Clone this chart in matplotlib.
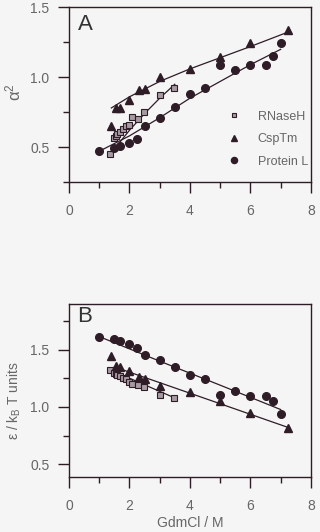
import numpy as np
import matplotlib
matplotlib.use('Agg')
from matplotlib import pyplot as plt
from matplotlib.ticker import MultipleLocator

plt.rcParams['font.family'] = ['Liberation Sans', 'DejaVu Sans']
plt.rcParams['mathtext.fontset'] = 'custom'
plt.rcParams['mathtext.rm'] = 'Liberation Sans'
plt.rcParams['mathtext.it'] = 'Liberation Sans'

#======================================================
# data
rnase_x = [1.36, 1.5, 1.55, 1.6, 1.7, 1.8, 1.9, 2.0, 2.07, 2.29, 2.48, 3.01, 3.48]
rnase_a = [0.452, 0.565, 0.58, 0.59, 0.61, 0.63, 0.65, 0.66, 0.716, 0.70, 0.75, 0.87, 0.925]
rnase_b = [1.32, 1.30, 1.29, 1.28, 1.27, 1.25, 1.24, 1.22, 1.20, 1.19, 1.172, 1.106, 1.078]

csp_x = [1.4, 1.55, 1.7, 2.0, 2.3, 2.5, 3.0, 4.0, 5.0, 6.0, 7.25]
csp_a = [0.649, 0.78, 0.78, 0.84, 0.906, 0.918, 1.0, 1.06, 1.147, 1.243, 1.34]
csp_b = [1.443, 1.356, 1.345, 1.313, 1.259, 1.241, 1.184, 1.132, 1.049, 0.948, 0.819]

protl_x = [1.0, 1.5, 1.7, 2.0, 2.25, 2.5, 3.0, 3.5, 4.0, 4.5, 5.0, 5.5, 6.0, 6.5, 6.75, 7.0]
protl_a = [0.469, 0.49, 0.505, 0.529, 0.56, 0.654, 0.709, 0.788, 0.882, 0.92,
           1.087, 1.05, 1.087, 1.087, 1.149, 1.245]
protl_b = [1.609, 1.592, 1.572, 1.552, 1.517, 1.451, 1.408, 1.345, 1.279, 1.244,
           1.106, 1.141, 1.098, 1.098, 1.049, 0.94]

# fitted curves
fit_rnase_xa = [1.4, 2.0, 2.5, 3.0, 3.5]
fit_rnase_ya = [0.46, 0.62, 0.74, 0.85, 0.95]
fit_csp_xa = [1.4, 2.0, 3.0, 4.0, 5.0, 6.0, 7.2]
fit_csp_ya = [0.78, 0.86, 0.97, 1.06, 1.14, 1.22, 1.32]
fit_protl_xa = [1.0, 2.0, 3.0, 4.0, 5.0, 6.0, 7.0]
fit_protl_ya = [0.47, 0.58, 0.71, 0.85, 0.97, 1.09, 1.20]

fit_rnase_xb = [1.36, 3.5]
fit_rnase_yb = [1.325, 1.078]
fit_csp_xb = [1.5, 4.0, 7.25]
fit_csp_yb = [1.35, 1.12, 0.82]
fit_protl_xb = [1.0, 3.0, 5.0, 7.0]
fit_protl_yb = [1.615, 1.40, 1.19, 0.977]

#======================================================
bg = '#f5f5f5'
ink = '#2e1c26'
grey = '#666666'

fig = plt.figure(figsize=(3.2, 5.32), dpi=100, facecolor=bg)
axA = fig.add_axes([0.2156, 0.658, 0.756, 0.328])
axB = fig.add_axes([0.2156, 0.104, 0.756, 0.3246])


def style(ax):
    ax.set_facecolor(bg)
    for s in ax.spines.values():
        s.set_color(ink)
        s.set_linewidth(1.0)
    ax.set_xlim(0, 8)
    ax.xaxis.set_major_locator(MultipleLocator(2))
    ax.xaxis.set_minor_locator(MultipleLocator(1))
    ax.yaxis.set_major_locator(MultipleLocator(0.5))
    ax.yaxis.set_minor_locator(MultipleLocator(0.25))
    ax.tick_params(which='major', direction='out', length=8, width=1, color=ink,
                   labelsize=10, labelcolor=grey)
    ax.tick_params(axis='x', which='major', pad=8)
    ax.tick_params(axis='y', which='major', pad=6)
    ax.tick_params(which='minor', direction='out', length=4, width=1, color=ink)


#! panel A
style(axA)
axA.set_ylim(0.25, 1.5)
axA.plot(fit_rnase_xa, fit_rnase_ya, color=ink, lw=0.9)
axA.plot(fit_csp_xa, fit_csp_ya, color=ink, lw=0.9)
axA.plot(fit_protl_xa, fit_protl_ya, color=ink, lw=0.9)
axA.plot(rnase_x, rnase_a, 's', ms=4, mfc='#a89aa2', mec=ink, mew=0.8, ls='none', label='RNaseH')
axA.plot(csp_x, csp_a, '^', ms=5.5, color=ink, ls='none', label='CspTm')
axA.plot(protl_x, protl_a, 'o', ms=5.5, color=ink, ls='none', label='Protein L')
axA.set_ylabel('α$^{2}$', fontsize=12, color=grey)
axA.yaxis.set_label_coords(-0.19, 0.515)
axA.text(0.035, 0.96, 'A', transform=axA.transAxes, fontsize=16, color='#333333',
         va='top', ha='left')
leg = axA.legend(loc='center left', bbox_to_anchor=(0.61, 0.245), frameon=False, fontsize=9,
                 handlelength=1.0, handletextpad=1.4, labelspacing=0.85, labelcolor=grey,
                 markerscale=0.8)

#! panel B
style(axB)
axB.set_ylim(0.39, 1.9)
axB.plot(fit_rnase_xb, fit_rnase_yb, color=ink, lw=0.9)
axB.plot(fit_csp_xb, fit_csp_yb, color=ink, lw=0.9)
axB.plot(fit_protl_xb, fit_protl_yb, color=ink, lw=0.9)
axB.plot(rnase_x, rnase_b, 's', ms=4, mfc='#a89aa2', mec=ink, mew=0.8, ls='none')
axB.plot(csp_x, csp_b, '^', ms=5.5, color=ink, ls='none')
axB.plot(protl_x, protl_b, 'o', ms=5.5, color=ink, ls='none')
axB.set_ylabel('ε / k$_{B}$ T units', fontsize=10, color=grey)
axB.yaxis.set_label_coords(-0.19, 0.44)
axB.set_xlabel('GdmCl / M', fontsize=10, color=grey, labelpad=2)
axB.text(0.035, 0.99, 'B', transform=axB.transAxes, fontsize=16, color='#333333',
         va='top', ha='left')

fig.savefig('out.png', dpi=100, facecolor=bg)
